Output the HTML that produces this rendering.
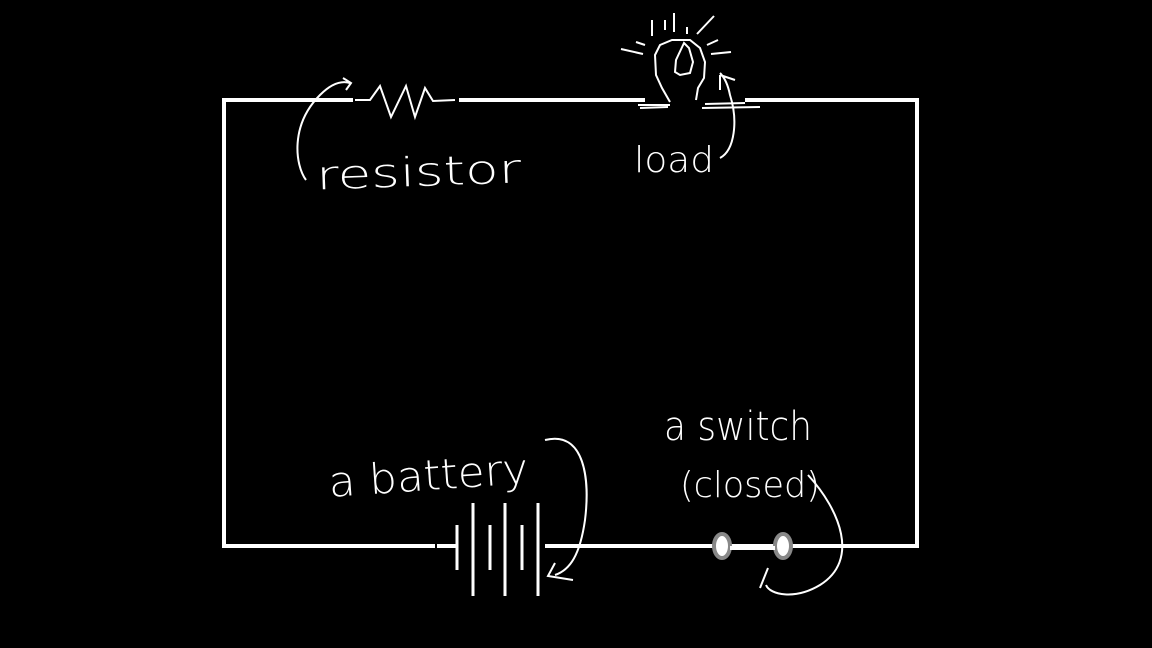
<!DOCTYPE html>
<html><head><meta charset="utf-8"><style>
html,body{margin:0;padding:0;background:#000;width:1152px;height:648px;overflow:hidden}
text{font-family:"DejaVu Sans","Liberation Sans",sans-serif;font-weight:200;fill:#fff}
</style></head><body>
<svg width="1152" height="648" viewBox="0 0 1152 648" xmlns="http://www.w3.org/2000/svg">
<g stroke="#fff" stroke-width="4" fill="none">
<!-- left, right wires -->
<line x1="224" y1="98" x2="224" y2="548"/>
<line x1="917" y1="98" x2="917" y2="548"/>
<!-- top wire pieces -->
<line x1="222" y1="100" x2="353" y2="100"/>
<line x1="459" y1="100" x2="645" y2="100"/>
<line x1="745" y1="100" x2="919" y2="100"/>
<!-- bottom wire -->
<line x1="222" y1="546" x2="435" y2="546"/>
<line x1="437" y1="546" x2="457" y2="546"/>
<line x1="545" y1="546" x2="919" y2="546"/>
</g>
<g stroke="#fff" stroke-width="2" fill="none">
<polyline points="355,100 370,100 380,86 391,117 406,86 415,117 425,88 433,101 455,100"/>
<!-- battery -->
<line x1="457" y1="525" x2="457" y2="570" stroke-width="3"/>
<line x1="473" y1="503" x2="473" y2="596" stroke-width="3"/>
<line x1="490" y1="525" x2="490" y2="570" stroke-width="3"/>
<line x1="505" y1="503" x2="505" y2="596" stroke-width="3"/>
<line x1="522" y1="525" x2="522" y2="570" stroke-width="3"/>
<line x1="538" y1="503" x2="538" y2="596" stroke-width="3"/>
<!-- bulb -->
<path d="M670,102 L662,88 L656,75 L655,55 L660,45 L672,40 L690,40 L700,48 L705,62 L704,78 L698,88 L696,100"/>
<path d="M684,43 L676,60 L675,72 L680,75 L690,73 L693,62 L689,48 Z"/>
<path d="M652,36 L652,20 M665,30 L665,20 M674,32 L674,13 M687,34 L687,27 M697,34 L714,16 M707,45 L718,40 M711,54 L731,52 M621,49 L643,54 M636,42 L645,45"/>
<path d="M638,105 L670,105 M640,108 L668,107 M702,108 L760,107 M705,104 L745,103"/>
<!-- arrows -->
<path d="M306,180 C295,165 290,125 320,95 C330,85 340,80 350,83 M343,78 L351,83 L346,90"/>
<path d="M720,158 C735,150 738,120 730,95 C728,85 725,78 720,73 M720,75 L720,90 M720,75 L735,80"/>
<path d="M545,440 C585,430 590,480 585,520 C580,555 570,570 555,575 M555,563 L548,576 L573,580"/>
<path d="M808,475 C840,510 860,560 820,585 C795,600 770,595 766,585 M768,568 L760,588"/>
</g>
<!-- switch -->
<ellipse cx="722" cy="546" rx="8" ry="12" fill="#fff" stroke="#888" stroke-width="4"/>
<ellipse cx="783" cy="546" rx="8" ry="12" fill="#fff" stroke="#888" stroke-width="4"/>
<line x1="730" y1="548" x2="775" y2="548" stroke="#fff" stroke-width="4"/>
<!-- labels -->
<text x="316" y="186" font-size="40" textLength="205" lengthAdjust="spacingAndGlyphs" transform="rotate(-2 416 170)">resistor</text>
<text x="634" y="172" font-size="36" textLength="80" lengthAdjust="spacingAndGlyphs">load</text>
<text x="328" y="490" font-size="42" textLength="200" lengthAdjust="spacingAndGlyphs" transform="rotate(-4 428 470)">a battery</text>
<text x="664" y="440" font-size="40" textLength="148" lengthAdjust="spacingAndGlyphs">a switch</text>
<text x="680" y="497" font-size="36" textLength="140" lengthAdjust="spacingAndGlyphs">(closed)</text>
</svg>
</body></html>
